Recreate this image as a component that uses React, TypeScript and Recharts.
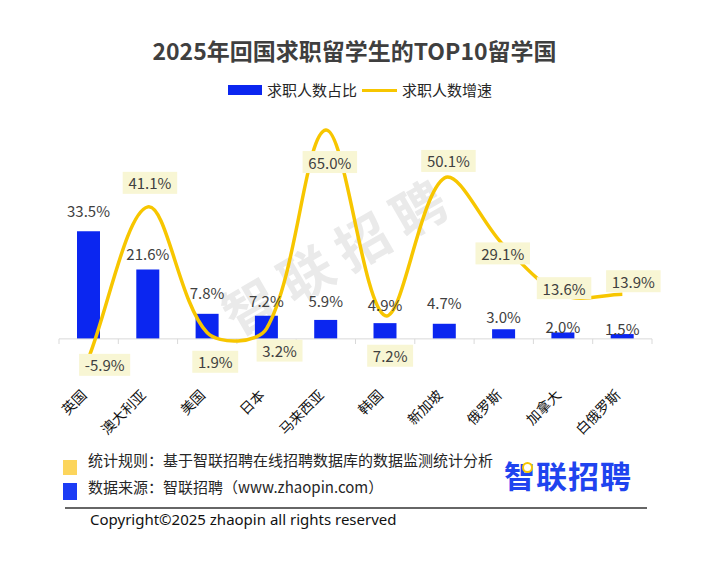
import React from 'react';
import { Bar, ComposedChart, LabelList, Line, ReferenceLine, XAxis, YAxis } from 'recharts';

const countries = ['英国', '澳大利亚', '美国', '日本', '马来西亚', '韩国', '新加坡', '俄罗斯', '加拿大', '白俄罗斯'];
const shareValues = [33.5, 21.6, 7.8, 7.2, 5.9, 4.9, 4.7, 3.0, 2.0, 1.5];
const growthValues = [-5.9, 41.1, 1.9, 3.2, 65.0, 7.2, 50.1, 29.1, 13.6, 13.9];
const valueDomain = [-10, 70];

const title = '2025年回国求职留学生的TOP10留学国';
const shareName = '求职人数占比';
const growthName = '求职人数增速';
const ruleNote = '统计规则：基于智联招聘在线招聘数据库的数据监测统计分析';
const sourceNote = '数据来源：智联招聘（www.zhaopin.com）';
const copyright = 'Copyright©2025 zhaopin all rights reserved';
const brand = '智联招聘';

// hand-placed label nudges, as in the original
const shareLabelGap = [21, 16, 21, 15, 19, 19, 21, 13, 6, 6];
const growthLabelShift = [
  [16, 7], [2, -24], [8, 29], [13, 22], [4, 32],
  [5, 40], [4, -17], [-1, 8], [1, -7], [11, -13],
];

const BLUE = '#0b26f0';
const YELLOW = '#f7c600';
const FONT = '"Noto Sans CJK SC", "Noto Sans", sans-serif';

const data = countries.map((name, i) => ({
  name,
  share: shareValues[i],
  growth: growthValues[i],
}));

const pct = (v: number) => `${v.toFixed(1)}%`;

const charW: Record<string, number> = { '.': 4.1, '%': 12.6, '-': 5.2 };
const textWidth = (s: string) => s.split('').reduce((w, c) => w + (charW[c] ?? 8.6), 0);

// spreadsheet-style smoothed line: catmull-rom tangents scaled by segment length
const smoothCurve = (context: any) => {
  let pts: number[][] = [];
  const dist = (a: number[], b: number[]) => Math.hypot(b[0] - a[0], b[1] - a[1]);
  return {
    areaStart() {},
    areaEnd() {},
    lineStart() {
      pts = [];
    },
    point(x: number, y: number) {
      pts.push([+x, +y]);
    },
    lineEnd() {
      const n = pts.length;
      if (!n) return;
      context.moveTo(pts[0][0], pts[0][1]);
      for (let i = 0; i < n - 1; i++) {
        const p0 = pts[Math.max(i - 1, 0)];
        const p1 = pts[i];
        const p2 = pts[i + 1];
        const p3 = pts[Math.min(i + 2, n - 1)];
        const d01 = dist(p0, p1);
        const d12 = dist(p1, p2);
        const d23 = dist(p2, p3);
        const a = d12 / (d01 + d12 || 1) / 3;
        const b = d12 / (d12 + d23 || 1) / 3;
        context.bezierCurveTo(
          p1[0] + (p2[0] - p0[0]) * a,
          p1[1] + (p2[1] - p0[1]) * a,
          p2[0] - (p3[0] - p1[0]) * b,
          p2[1] - (p3[1] - p1[1]) * b,
          p2[0],
          p2[1],
        );
      }
    },
  };
};

const ShareLabel = (props: any) => {
  const { x, y, width, value, index } = props;
  return (
    <text
      x={x + width / 2}
      y={y - shareLabelGap[index]}
      textAnchor="middle"
      dominantBaseline="central"
      fontSize={15}
      fill="#404040"
      fontFamily={FONT}
    >
      {pct(value)}
    </text>
  );
};

const GrowthLabel = (props: any) => {
  const { x, y, value, index } = props;
  const [dx, dy] = growthLabelShift[index];
  const label = pct(value);
  const w = textWidth(label) + 12;
  const cx = x + dx;
  const cy = y + dy;
  return (
    <g>
      <rect x={cx - w / 2} y={cy - 11} width={w} height={22} fill="#f8f6d4" />
      <text
        x={cx}
        y={cy}
        textAnchor="middle"
        dominantBaseline="central"
        fontSize={15}
        fill="#404040"
        fontFamily={FONT}
      >
        {label}
      </text>
    </g>
  );
};

const CountryTick = (props: any) => {
  const { x, y, payload } = props;
  const ty = y + 17;
  return (
    <text
      x={x - 1}
      y={ty}
      transform={`rotate(-45 ${x - 1} ${ty})`}
      textAnchor="end"
      fontSize={14}
      fill="#111"
      fontFamily={FONT}
    >
      {payload.value}
    </text>
  );
};

export default function App() {
  return (
    <div
      style={{
        position: 'absolute',
        left: 0,
        top: 0,
        width: 709,
        height: 561,
        background: '#fff',
        fontFamily: FONT,
        overflow: 'hidden',
      }}
    >
      <div
        style={{
          position: 'absolute',
          left: 0,
          top: 36,
          width: 709,
          textAlign: 'center',
          fontSize: 23,
          lineHeight: '28px',
          fontWeight: 700,
          color: '#3f3f3f',
        }}
      >
        {title}
      </div>

      <div
        style={{
          position: 'absolute',
          left: 228,
          top: 80,
          height: 20,
          display: 'flex',
          alignItems: 'center',
          fontSize: 15,
          color: '#262626',
        }}
      >
        <span style={{ width: 34, height: 10, background: BLUE, marginRight: 5 }} />
        <span style={{ lineHeight: '20px' }}>{shareName}</span>
        <span style={{ width: 35, height: 3, background: YELLOW, margin: '0 5px' }} />
        <span style={{ lineHeight: '20px' }}>{growthName}</span>
      </div>

      <div
        style={{
          position: 'absolute',
          left: 338,
          top: 252,
          transform: 'translate(-50%, -50%) rotate(-30deg)',
          fontSize: 53,
          fontWeight: 700,
          color: '#eaeaea',
          whiteSpace: 'nowrap',
          letterSpacing: 12,
        }}
      >
        {brand}
      </div>

      <div style={{ position: 'absolute', left: 0, top: 0 }}>
        <ComposedChart
          width={709}
          height={561}
          data={data}
          margin={{ top: 114, right: 57, bottom: 130, left: 59 }}
        >
          <XAxis
            dataKey="name"
            axisLine={false}
            tickLine={false}
            height={60}
            interval={0}
            tick={<CountryTick />}
          />
          <YAxis hide domain={valueDomain} />
          <ReferenceLine y={0} stroke="#d9d9d9" strokeWidth={1} />
          {countries.map((c) => (
            <ReferenceLine
              key={c}
              segment={[{ x: c, y: 0 }, { x: c, y: -1.6 }]}
              position="start"
              stroke="#d9d9d9"
            />
          ))}
          <ReferenceLine
            segment={[
              { x: countries[countries.length - 1], y: 0 },
              { x: countries[countries.length - 1], y: -1.6 },
            ]}
            position="end"
            stroke="#d9d9d9"
          />
          <Bar dataKey="share" name={shareName} fill={BLUE} barSize={23} isAnimationActive={false}>
            <LabelList dataKey="share" content={<ShareLabel />} />
          </Bar>
          <Line
            type={smoothCurve as any}
            dataKey="growth"
            name={growthName}
            stroke={YELLOW}
            strokeWidth={3.5}
            dot={false}
            activeDot={false}
            isAnimationActive={false}
          >
            <LabelList dataKey="growth" content={<GrowthLabel />} />
          </Line>
        </ComposedChart>
      </div>

      <span style={{ position: 'absolute', left: 63, top: 460, width: 14, height: 15, background: '#fcd55c' }} />
      <div style={{ position: 'absolute', left: 88, top: 449, fontSize: 15, lineHeight: '22px', color: '#262626' }}>
        {ruleNote}
      </div>
      <span style={{ position: 'absolute', left: 63, top: 483, width: 14, height: 17, background: '#1c3cf5' }} />
      <div style={{ position: 'absolute', left: 88, top: 476, fontSize: 15, lineHeight: '22px', color: '#262626' }}>
        {sourceNote}
      </div>

      <div
        style={{
          position: 'absolute',
          left: 504,
          top: 456,
          fontSize: 31,
          lineHeight: '38px',
          fontWeight: 700,
          color: '#1f44ef',
          letterSpacing: 1,
        }}
      >
        {brand}
      </div>
      <span
        style={{
          position: 'absolute',
          left: 522,
          top: 462,
          width: 7,
          height: 7,
          borderRadius: '50%',
          border: '2.5px solid #f7c600',
          background: '#fff',
        }}
      />

      <div style={{ position: 'absolute', left: 65, top: 507, width: 582, height: 2, background: '#666' }} />
      <div
        style={{
          position: 'absolute',
          left: 90,
          top: 508,
          fontSize: 15,
          lineHeight: '22px',
          color: '#111',
          fontFamily: '"Noto Sans", "Open Sans", sans-serif',
        }}
      >
        {copyright}
      </div>
    </div>
  );
}
